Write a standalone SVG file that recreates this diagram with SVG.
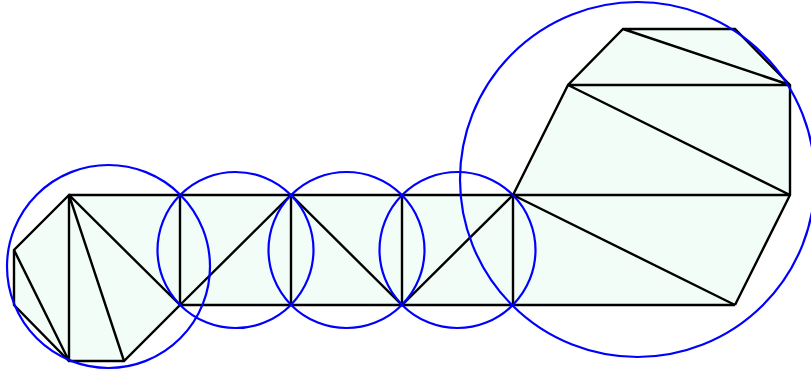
<svg xmlns="http://www.w3.org/2000/svg" width="811" height="374" viewBox="0 0 811 374">
<style>
.fill{fill:#f2fdf7;stroke:none}
.e{stroke:#000;stroke-width:2.4;fill:none;stroke-linecap:butt}
.c{stroke:#0000ff;stroke-width:2.2;fill:none}
</style>
<rect width="811" height="374" fill="#fff"/>
<polygon class="fill" points="69,195 513,195 568,85 623,29 735,29 790,85 790,195 735,305 180,305 124,361 69,361 14,305 14,250"/>
<g id="edges">
<path class="e" d="M69,195 L14,250 L14,305 L69,361 L124,361 L180,305 L69,195 Z"/>
<path class="e" d="M14,250 L69,361 M69,195 L69,361 M69,195 L124,361"/>
<path class="e" d="M69,195 L513,195 M180,305 L735,305"/>
<path class="e" d="M180,195 L180,305 M291,195 L291,305 M402,195 L402,305 M513,195 L513,305"/>
<path class="e" d="M180,305 L291,195 L402,305 L513,195"/>
<path class="e" d="M513,195 L568,85 L623,29 L735,29 L790,85 L790,195 L735,305 M513,195 L735,305 M513,195 L790,195 M568,85 L790,195 M568,85 L790,85 M623,29 L790,85"/>
</g>
<g id="circles">
<circle class="c" cx="108.5" cy="266.5" r="101.5"/>
<circle class="c" cx="235.5" cy="250" r="78"/>
<circle class="c" cx="346.5" cy="250" r="78"/>
<circle class="c" cx="457.5" cy="250" r="78"/>
<circle class="c" cx="637.5" cy="179.5" r="177.5"/>
</g>
</svg>
